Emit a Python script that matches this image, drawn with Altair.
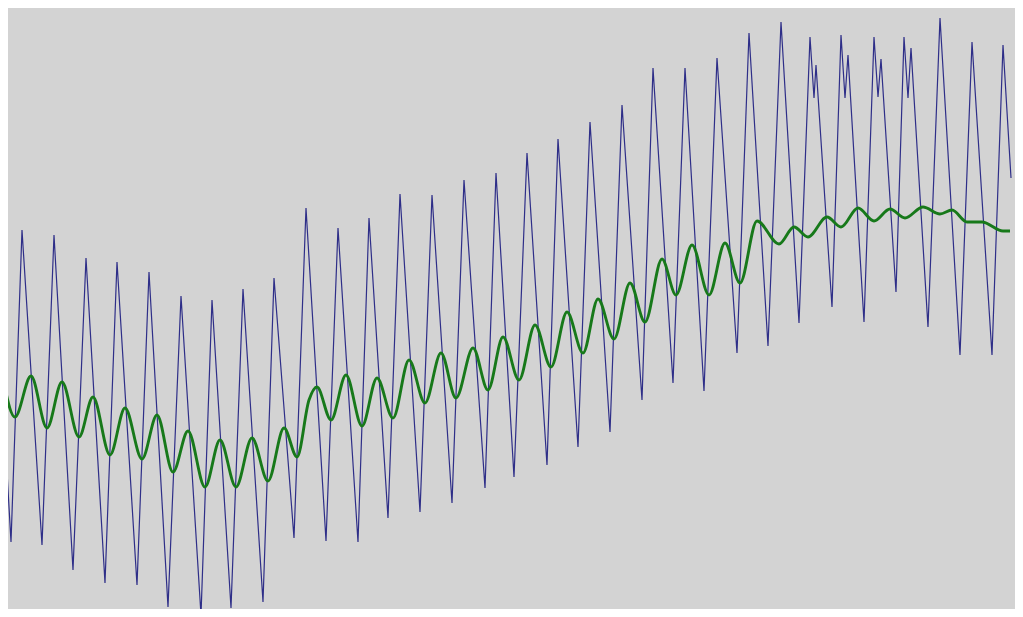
import altair as alt
import pandas as pd

# Blue raw series: (position, level) (level = 617 - pixel row)
blue_x = [0, 11, 22, 42, 54, 73, 86, 105, 117, 137, 149, 168, 181, 201, 212, 231,
          243, 263, 274, 294, 306, 326, 338, 358, 369, 388, 400, 420, 432, 452,
          464, 485, 496, 514, 527, 547, 558, 578, 590, 610, 622, 642, 653, 673,
          685, 704, 717, 737, 749, 768, 781, 799, 810, 814, 816, 832, 841, 845,
          848, 864, 874, 878, 881, 896, 904, 908, 911, 928, 940, 960, 972, 992,
          1003, 1011]
blue_row = [349, 542, 230, 545, 235, 570, 258, 583, 262, 585, 272, 607, 296, 615,
            300, 608, 289, 602, 278, 538, 208, 541, 228, 542, 218, 518, 194, 512,
            195, 503, 180, 488, 173, 477, 153, 465, 139, 447, 122, 432, 105, 400,
            68, 383, 68, 391, 58, 353, 33, 346, 22, 323, 37, 98, 65, 307, 35, 98,
            55, 322, 37, 97, 59, 292, 37, 98, 48, 327, 18, 355, 42, 355, 45, 178]

# Green smoothed series
green_x = [0, 15, 31, 47, 62, 79, 93, 110, 125, 142, 157, 173, 188, 205, 220, 236,
           252, 268, 284, 297, 309, 317, 331, 346, 362, 377, 393, 409, 425, 441,
           456, 473, 488, 503, 519, 535, 551, 567, 583, 598, 614, 630, 645, 662,
           676, 692, 709, 725, 740, 757, 779, 794, 808, 827, 841, 858, 874, 890,
           905, 923, 940, 952, 967, 982, 1003, 1010]
green_row = [362, 417, 376, 428, 382, 437, 397, 455, 408, 459, 415, 472, 431, 487,
             440, 487, 438, 481, 428, 457, 400, 387, 420, 375, 426, 378, 418, 360,
             403, 353, 398, 348, 390, 337, 380, 325, 367, 312, 353, 299, 339, 283,
             322, 259, 295, 245, 295, 243, 283, 221, 244, 227, 237, 217, 227, 208,
             221, 209, 218, 207, 214, 210, 222, 222, 231, 231]

blue = pd.DataFrame({"x": blue_x, "v": [617 - r for r in blue_row]})
green = pd.DataFrame({"x": green_x, "v": [617 - r for r in green_row]})

xs = alt.Scale(domain=[8, 1015], nice=False, zero=False)
ys = alt.Scale(domain=[8, 609], nice=False, zero=False)

b = alt.Chart(blue).mark_line(color="#2e2e88", strokeWidth=1.2, clip=True).encode(
    x=alt.X("x:Q", scale=xs, axis=None),
    y=alt.Y("v:Q", scale=ys, axis=None),
)
g = alt.Chart(green).mark_line(color="#17791a", strokeWidth=2.9, interpolate="monotone",
                               clip=True).encode(
    x=alt.X("x:Q", scale=xs, axis=None),
    y=alt.Y("v:Q", scale=ys, axis=None),
)

chart = alt.layer(b, g).properties(
    width=1007, height=601, padding=0, background="#d3d3d3"
).configure_view(stroke=None, fill="#d3d3d3")

chart.save("out.html", embed_options={"renderer": "svg", "actions": False})
